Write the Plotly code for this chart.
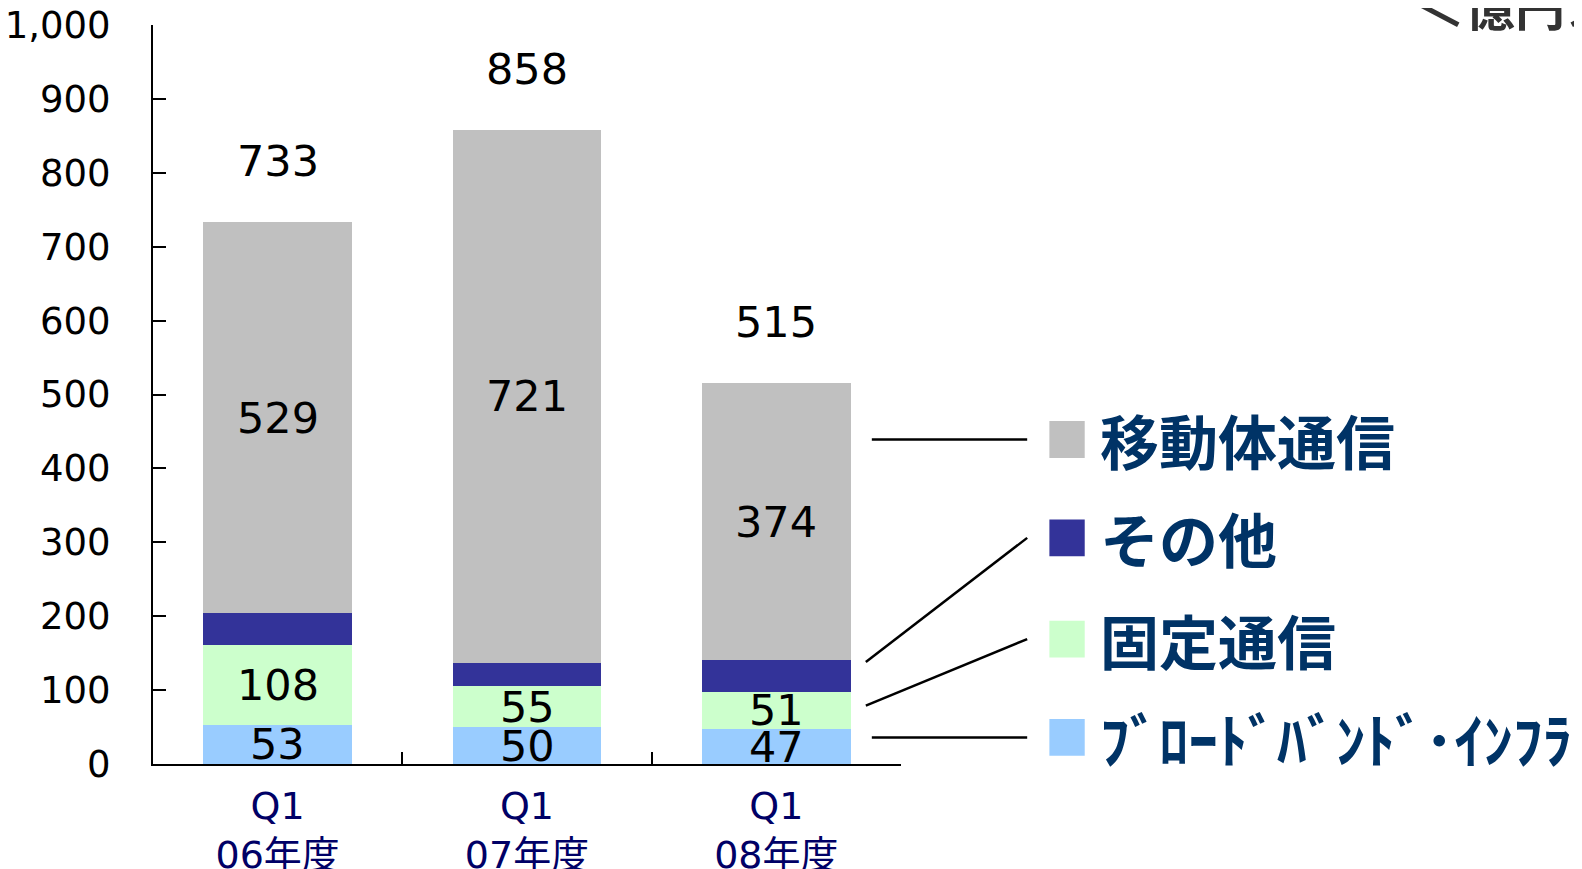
import plotly.graph_objects as go

# data (億円)
categories = ["Q1<br>06年度", "Q1<br>07年度", "Q1<br>08年度"]
broadband = [53, 50, 47]       # ブロードバンド・インフラ
fixed = [108, 55, 51]          # 固定通信
other = [43, 32, 43]           # その他
mobile = [529, 721, 374]       # 移動体通信
totals = [733, 858, 515]

series = [
    ("ﾌﾞﾛｰﾄﾞﾊﾞﾝﾄﾞ･ｲﾝﾌﾗ", broadband, "#99CCFF", True),
    ("固定通信", fixed, "#CCFFCC", True),
    ("その他", other, "#333399", False),
    ("移動体通信", mobile, "#C0C0C0", True),
]

FONT = "Noto Sans CJK JP, Noto Sans, sans-serif"
NUMFONT = "DejaVu Sans, Noto Sans CJK JP, sans-serif"

fig = go.Figure()
base = [0, 0, 0]
for name, vals, color, labelled in series:
    fig.add_trace(go.Bar(
        x=categories, y=vals, name=name,
        marker=dict(color=color, line=dict(width=0)),
    ))
    if labelled:
        for c, v, b in zip(categories, vals, base):
            fig.add_annotation(
                x=c, y=b + v / 2, text=str(v), showarrow=False,
                font=dict(family=NUMFONT, size=43, color="black"),
                yanchor="middle",
            )
    base = [b + v for b, v in zip(base, vals)]

# totals above bars
for c, t in zip(categories, totals):
    fig.add_annotation(
        x=c, y=t, text=str(t), showarrow=False, yshift=61,
        font=dict(family=NUMFONT, size=43, color="black"), yanchor="middle",
    )

# custom legend on the right (top to bottom)
legend_items = [("移動体通信", "#C0C0C0"), ("その他", "#333399"),
                ("固定通信", "#CCFFCC"), ("ﾌﾞﾛｰﾄﾞﾊﾞﾝﾄﾞ･ｲﾝﾌﾗ", "#99CCFF")]
legend_y = [439, 306, 169, 36]          # centre of each legend row, y units
leader_left = [(0.961, 439), (0.953, 138), (0.953, 79), (0.961, 36)]
px = lambda p: (p - 152) / 741.0        # screen x -> paper x

for (label, color), ly, (lx0, ly0) in zip(legend_items, legend_y, leader_left):
    fig.add_shape(type="rect", xref="paper", yref="y",
                  x0=px(1040), x1=px(1075), y0=ly - 25, y1=ly + 25,
                  fillcolor=color, line=dict(width=0))
    fig.add_shape(type="line", xref="paper", yref="y",
                  x0=lx0, y0=ly0, x1=px(1018), y1=ly,
                  line=dict(color="black", width=2.5))
    fig.add_annotation(xref="paper", yref="y", x=px(1088), y=ly,
                       text="<b>%s</b>" % label, showarrow=False,
                       xanchor="left", yanchor="middle",
                       font=dict(family=FONT, size=59, color="#003366"))

# unit label, top right (clipped by the page edge as in the original)
fig.add_annotation(xref="paper", yref="paper", x=1.684, y=1.029,
                   text="<b>＜億円＞</b>", showarrow=False,
                   xanchor="left", yanchor="middle",
                   font=dict(family=FONT, size=50, color="#333333"))

# the page body keeps an 8px margin, so margins are shifted by that much
fig.update_layout(
    barmode="stack",
    bargap=0.405,
    showlegend=False,
    width=1574, height=861,
    margin=dict(l=145, r=681, t=17, b=105),
    plot_bgcolor="white", paper_bgcolor="white",
    font=dict(family=FONT),
    xaxis=dict(
        automargin=False,
        showline=True, linecolor="black", linewidth=2,
        ticks="inside", tickson="boundaries", ticklen=12, tickwidth=2,
        tickcolor="black", showgrid=False, zeroline=False,
        tickfont=dict(family=NUMFONT, size=38, color="#000066"),
        ticklabelstandoff=7, ticklabeloverflow="allow",
    ),
    yaxis=dict(
        automargin=False,
        range=[0, 1000], tickvals=list(range(0, 1001, 100)), tickformat=",d",
        showline=True, linecolor="black", linewidth=2,
        ticks="inside", ticklen=13, tickwidth=2, tickcolor="black",
        showgrid=False, zeroline=False,
        tickfont=dict(family=NUMFONT, size=37, color="black"),
        ticklabelstandoff=33, ticklabeloverflow="allow",
    ),
)

fig.write_html("out.html")
